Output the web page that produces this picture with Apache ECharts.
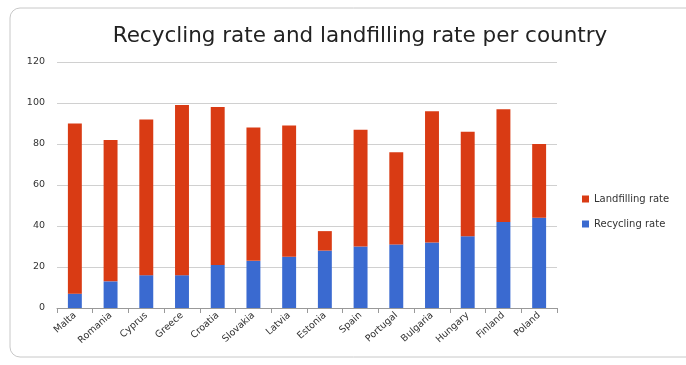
<!DOCTYPE html>
<html><head><meta charset="utf-8">
<script src="https://cdn.jsdelivr.net/npm/echarts@6/dist/echarts.min.js"></script>
<style>html,body{margin:0;padding:0;background:#fff}#c{width:686px;height:365px}</style>
</head><body><div id="c"></div>
<script>
const countries = ["Malta","Romania","Cyprus","Greece","Croatia","Slovakia","Latvia","Estonia","Spain","Portugal","Bulgaria","Hungary","Finland","Poland"];
const recyclingRate = [7,13,16,16,21,23,25,28,30,31,32,35,42,44];
const landfillingRate = [83,69,76,83,77,65,64,9.5,57,45,64,51,55,36];
const yTicks = [0,20,40,60,80,100,120];

const chart = echarts.init(document.getElementById('c'));
chart.setOption({
  animation:false,
  backgroundColor:'#fff',
  graphic:[{type:'rect',shape:{x:10,y:8,width:700,height:349,r:10},style:{fill:'none',stroke:'#c8c8c8',lineWidth:1},silent:true}],
  title:{text:'Recycling rate and landfilling rate per country',left:355,textAlign:'center',top:20,
    textStyle:{fontFamily:'DejaVu Sans',fontSize:21.5,fontWeight:'normal',color:'#222'}},
  legend:{orient:'vertical',left:577,top:189,itemWidth:7,itemHeight:7,itemGap:15,
    data:['Landfilling rate','Recycling rate'],
    textStyle:{fontFamily:'DejaVu Sans',fontSize:10,color:'#333'},icon:'rect'},
  grid:{left:57,top:62,width:500,height:246,containLabel:false},
  xAxis:{type:'category',data:countries,
    axisLine:{lineStyle:{color:'#999'}},
    axisTick:{show:true,interval:0,length:5,lineStyle:{color:'#999'}},
    axisLabel:{interval:0,rotate:42,fontFamily:'DejaVu Sans',fontSize:9.5,color:'#333',margin:6}},
  yAxis:{type:'value',min:yTicks[0],max:yTicks[yTicks.length-1],interval:20,
    axisLine:{show:false},axisTick:{show:false},
    splitLine:{lineStyle:{color:'#d0d0d0'}},
    axisLabel:{fontFamily:'DejaVu Sans',fontSize:9.5,color:'#333',margin:12}},
  series:[
    {name:'Recycling rate',type:'bar',stack:'a',data:recyclingRate,barWidth:'39%',itemStyle:{color:'#3a6ad0'}},
    {name:'Landfilling rate',type:'bar',stack:'a',data:landfillingRate,barWidth:'39%',itemStyle:{color:'#d93b14'}}
  ]
});
</script></body></html>
